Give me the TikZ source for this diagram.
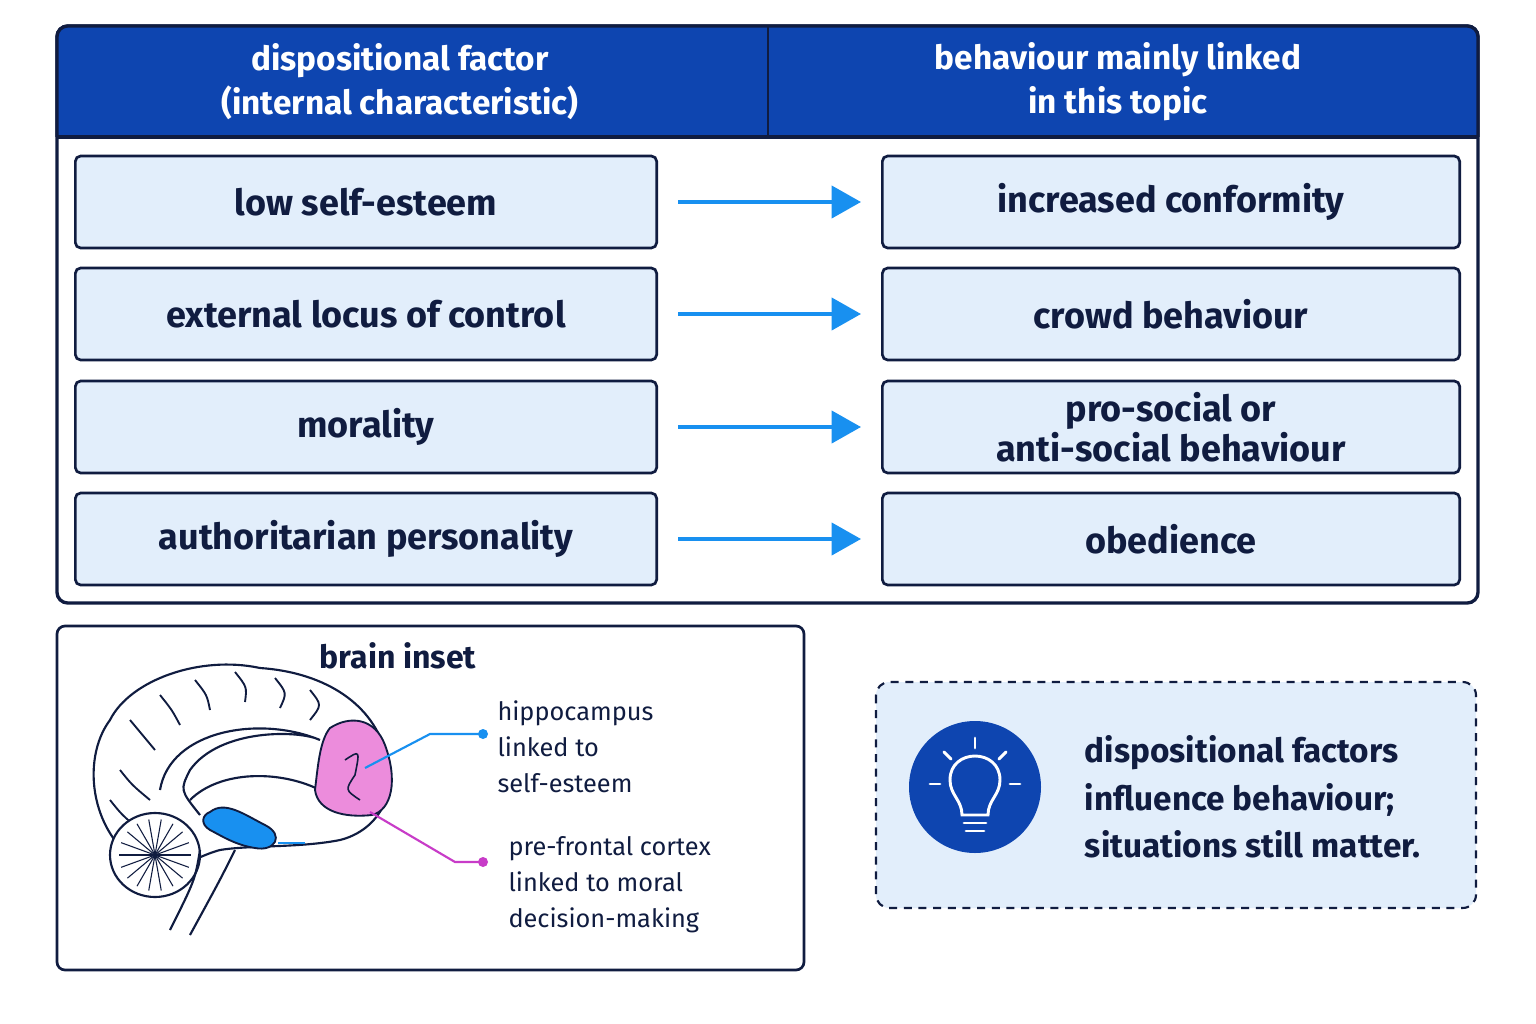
\documentclass[tikz,border=0pt]{standalone}
\usepackage{fontspec}
\setmainfont{Fira Sans}
\usetikzlibrary{arrows.meta,positioning}
\definecolor{navy}{RGB}{16,28,64}
\definecolor{hdblue}{RGB}{14,69,176}
\definecolor{boxfill}{RGB}{226,238,251}
\definecolor{arrblue}{RGB}{24,144,240}
\definecolor{pinkreg}{RGB}{236,140,220}
\definecolor{magline}{RGB}{200,60,200}
\tikzset{every picture/.style={line width=0.75pt}}
\tikzset{
  rowbox/.style={draw=navy,fill=boxfill,rounded corners=4pt,line width=2pt,minimum width=436pt,minimum height=69pt,font=\fontsize{27}{30}\selectfont\bfseries,text=navy,align=center},
  hdtext/.style={text=white,font=\fontsize{25}{33}\selectfont\bfseries,align=center},
  maparrow/.style={draw=arrblue,line width=3pt,-{Triangle[length=22pt,width=24pt]}},
  smalltext/.style={font=\fontsize{19}{27}\selectfont,text=navy,align=left,anchor=north west,inner sep=0pt}
}
\begin{document}
\begin{tikzpicture}[x=0.75pt,y=0.75pt,yscale=-1,xscale=1]
\useasboundingbox (0,0) rectangle (1536,1024);
\fill[white] (0,0) rectangle (1536,1024);

%Table frame and header
\draw[navy,line width=2.5pt,fill=white,rounded corners=8pt] (57,26) rectangle (1478,603);
\fill[hdblue,rounded corners=8pt] (57,26) rectangle (1478,137);
\fill[hdblue] (57,100) rectangle (1478,137);
\draw[navy,line width=2.5pt,rounded corners=8pt] (57,137) -- (57,26) -- (1478,26) -- (1478,137);
\draw[navy,line width=2.5pt] (57,137) -- (1478,137);
\draw[navy,line width=2pt] (768,26) -- (768,137);
\node[hdtext] (hdleft) at (400,82) {dispositional factor\\(internal characteristic)};
\node[hdtext] (hdright) at (1118,82) {behaviour mainly linked\\in this topic};

%Rows
\foreach \y/\lt/\rt [count=\i] in {202/{low self-esteem}/{increased conformity},
    314/{external locus of control}/{crowd behaviour},
    427/{morality}/{pro-social or\\anti-social behaviour},
    539/{authoritarian personality}/{obedience}} {
  \node[rowbox] (fac\i) at (366,\y) {\lt};
  \node[rowbox,minimum width=433pt] (beh\i) at (1171,\y) {\rt};
  \draw[maparrow] ([xshift=15pt]fac\i.east) -- ([xshift=-15pt]beh\i.west);
}

%Brain inset
\draw[navy,line width=2pt,rounded corners=6pt] (57,626) rectangle (804,970);
\node[font=\fontsize{24}{28}\selectfont\bfseries,text=navy] (insettitle) at (398,656) {brain inset};

%brain outline
\draw[navy,line width=1.6pt,fill=white] (150,870) .. controls (90,840) and (80,760) .. (110,720)
  .. controls (130,680) and (200,655) .. (260,668)
  .. controls (320,672) and (370,700) .. (385,750)
  .. controls (400,790) and (380,830) .. (340,840)
  .. controls (300,848) and (250,845) .. (220,850)
  .. controls (200,855) and (180,870) .. (150,870) -- cycle;
%gyri
\foreach \a/\b/\c in {130/720/150,160/695/175,195/680/205,235/672/240,275/678/275,310/690/305,120/770/145,110/800/135}
  \draw[navy,line width=1.4pt] (\a,\b) .. controls (\a+12,\b+15) .. (\c+5,\b+30);
\draw[navy,line width=1.6pt] (160,790) .. controls (170,730) and (260,715) .. (320,740)
  .. controls (300,730) and (220,728) .. (190,770) .. controls (180,790) .. (200,815);
\draw[navy,line width=1.6pt] (190,800) .. controls (220,770) and (280,770) .. (320,790);
%pink pre-frontal region
\draw[navy,line width=1.4pt,fill=pinkreg] (330,728) .. controls (350,715) and (375,718) .. (385,745)
  .. controls (398,780) and (392,810) .. (372,815) .. controls (345,818) and (318,812) .. (315,790)
  .. controls (318,765) and (320,740) .. (330,728) -- cycle;
\draw[navy,line width=1.2pt] (345,760) .. controls (360,750) .. (355,775) .. controls (345,790) .. (360,800);
%cerebellum
\draw[navy,line width=1.6pt,fill=white] (155,855) circle[x radius=45,y radius=42];
\foreach \ang in {0,20,...,340}
  \draw[navy,line width=0.8pt] (155,855) -- ++(\ang:36);
%stem
\draw[navy,line width=1.6pt] (200,850) .. controls (195,880) .. (170,930);
\draw[navy,line width=1.6pt] (235,850) .. controls (220,880) .. (190,935);
%hippocampus
\draw[navy,line width=1.4pt,fill=arrblue] (210,812) .. controls (225,800) and (245,815) .. (265,825)
  .. controls (285,835) and (275,852) .. (255,848) .. controls (235,845) and (220,835) .. (210,830)
  .. controls (200,824) and (202,815) .. (210,812) -- cycle;
\coordinate (hipp) at (278,843);
\draw[arrblue,line width=1.4pt] (hipp) -- (305,843);

%labels
\node[smalltext] (hiplabel) at (497,700) {hippocampus\\linked to\\self-esteem};
\node[smalltext] (pfclabel) at (508,836) {pre-frontal cortex\\linked to moral\\decision-making};
\coordinate (pinkA) at (365,768);
\coordinate (pinkB) at (370,812);
\fill[arrblue] (483,734) circle (5);
\fill[magline] (483,862) circle (5);
\draw[arrblue,line width=1.6pt] (pinkA) -- (430,734) -- (483,734);
\draw[magline,line width=1.6pt] (pinkB) -- (455,862) -- (483,862);

%Note box
\draw[navy,line width=1.6pt,dashed,dash pattern=on 6pt off 5pt,fill=boxfill,rounded corners=10pt] (876,682) rectangle (1476,908);
\node[circle,fill=hdblue,minimum size=99pt,inner sep=0pt] (bulb) at (975,787) {};
\begin{scope}[white,line width=2.2pt,line cap=round]
  \draw (962,815) .. controls (962,800) and (950,795) .. (950,780)
    .. controls (950,748) and (1000,748) .. (1000,780)
    .. controls (1000,795) and (988,800) .. (988,815) -- cycle;
  \draw (964,823) -- (986,823);
  \draw (966,831) -- (984,831);
  \draw (975,738) -- (975,748);
  \draw (944,752) -- (951,759);
  \draw (1006,752) -- (999,759);
  \draw (930,784) -- (940,784);
  \draw (1010,784) -- (1020,784);
\end{scope}
\node[font=\fontsize{25}{35.5}\selectfont\bfseries,text=navy,align=left,anchor=west] (note) at (1080,797) {dispositional factors\\influence behaviour;\\situations still matter.};
\end{tikzpicture}
\end{document}
